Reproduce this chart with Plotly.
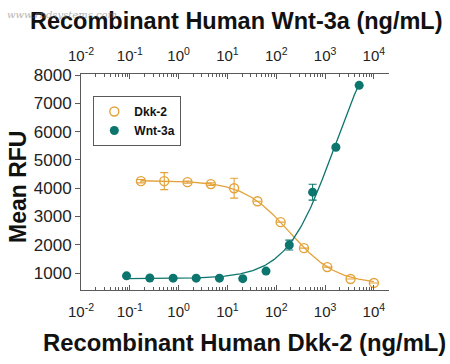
import numpy as np
import plotly.graph_objects as go

# ---- data ----
dkk_conc = [0.169, 0.508, 1.52, 4.57, 13.7, 41.2, 123, 370, 1111, 3333, 10000]
dkk_rfu = [4250, 4250, 4215, 4145, 4000, 3540, 2800, 1880, 1210, 790, 650]
dkk_err = [60, 300, 40, 50, 350, 0, 0, 0, 0, 0, 0]

wnt_conc = [0.0857, 0.257, 0.772, 2.29, 6.86, 20.6, 61.7, 185, 556, 1667, 5000]
wnt_rfu = [900, 825, 820, 820, 820, 800, 1070, 1990, 3860, 5450, 7640]
wnt_err = [0, 0, 0, 0, 0, 0, 0, 175, 280, 50, 0]

# 4PL fit parameters (bottom, top, mid-point, hill)
dkk_fit = dict(bottom=600, top=4270, mid=190, hill=-0.91)
wnt_fit = dict(bottom=800, top=10000, mid=1500, hill=0.9)

x_ticks = [1e-2, 1e-1, 1e0, 1e1, 1e2, 1e3, 1e4]
x_ticktext = ["10<sup>-2</sup>", "10<sup>-1</sup>", "10<sup>0</sup>", "10<sup>1</sup>",
              "10<sup>2</sup>", "10<sup>3</sup>", "10<sup>4</sup>"]
y_ticks = [1000, 2000, 3000, 4000, 5000, 6000, 7000, 8000]

ORANGE = "#E3A23A"
TEAL = "#0C756D"
AXIS = "#5a5a5a"


def four_pl(x, p):
    x = np.asarray(x, dtype=float)
    return p["bottom"] + (p["top"] - p["bottom"]) / (1 + (p["mid"] / x) ** p["hill"])


dkk_x = np.logspace(np.log10(dkk_conc[0]), np.log10(dkk_conc[-1]), 200)
wnt_x = np.logspace(np.log10(wnt_conc[0]), np.log10(wnt_conc[-1]), 200)

minor_vals = [m * 10.0 ** d for d in range(-2, 5) for m in range(2, 10)]

fig = go.Figure()
fig.add_trace(go.Scatter(x=dkk_x, y=four_pl(dkk_x, dkk_fit), mode="lines",
                         line=dict(color=ORANGE, width=1.3), showlegend=False, hoverinfo="skip"))
fig.add_trace(go.Scatter(x=dkk_conc, y=dkk_rfu, mode="markers", name="Dkk-2",
                         marker=dict(symbol="circle-open", size=9, color=ORANGE, line=dict(width=1.4)),
                         error_y=dict(type="data", array=dkk_err, visible=True, color=ORANGE,
                                      thickness=1.1, width=4)))
fig.add_trace(go.Scatter(x=wnt_x, y=four_pl(wnt_x, wnt_fit), mode="lines",
                         line=dict(color=TEAL, width=1.3), showlegend=False, hoverinfo="skip"))
fig.add_trace(go.Scatter(x=wnt_conc, y=wnt_rfu, mode="markers", name="Wnt-3a",
                         marker=dict(symbol="circle", size=9, color=TEAL),
                         error_y=dict(type="data", array=wnt_err, visible=True, color=TEAL,
                                      thickness=1.1, width=4)))
# invisible trace to anchor the top axis
fig.add_trace(go.Scatter(x=[1e-2, 1e4], y=[1000, 1000], xaxis="x2", mode="markers",
                         marker=dict(opacity=0), showlegend=False, hoverinfo="skip"))

tick_font = dict(family="Liberation Sans Narrow, Arial Narrow, Liberation Sans, Arial", size=15, color="#222")
xr = [-2, 4.31]
common_x = dict(type="log", range=xr, tickmode="array", tickvals=x_ticks, ticktext=x_ticktext,
                ticks="inside", ticklen=5, tickwidth=1, tickcolor=AXIS, showline=True,
                linecolor=AXIS, linewidth=1, showgrid=False, zeroline=False, tickfont=tick_font,
                minor=dict(ticks="inside", ticklen=3, tickwidth=1, tickcolor=AXIS,
                           tickmode="array", tickvals=minor_vals, showgrid=False))

fig.update_layout(
    width=450, height=364,
    margin=dict(l=81, r=61, t=74, b=74),
    paper_bgcolor="white", plot_bgcolor="white",
    xaxis=dict(**common_x, side="bottom", ticklabelstandoff=8),
    xaxis2=dict(**common_x, side="top", overlaying="x", anchor="y", ticklabelstandoff=6),
    yaxis=dict(range=[400, 8040], tickmode="array", tickvals=y_ticks, ticks="outside",
               ticklen=5, tickcolor=AXIS, showline=True, linecolor=AXIS, linewidth=1,
               showgrid=False, zeroline=False,
               tickfont=dict(family="Liberation Sans Narrow, Arial Narrow, Liberation Sans, Arial",
                             size=17, color="#222")),
    legend=dict(x=0.04, y=0.898, xanchor="left", yanchor="top", bgcolor="white",
                bordercolor=AXIS, borderwidth=1,
                font=dict(family="Liberation Sans, Arial", size=12, color="#111", weight="bold"),
                itemwidth=30, tracegroupgap=0),
    showlegend=True,
)

fig.add_annotation(text="Recombinant Human Wnt-3a (ng/mL)", xref="paper", yref="paper",
                   x=(236 - 81) / 308, y=(290 - 21) / 216, xanchor="center", yanchor="middle",
                   showarrow=False,
                   font=dict(family="Liberation Sans, Arial", size=23.5, color="#111", weight="bold"))
fig.add_annotation(text="Recombinant Human Dkk-2 (ng/mL)", xref="paper", yref="paper",
                   x=(244 - 81) / 308, y=(290 - 342) / 216, xanchor="center", yanchor="middle",
                   showarrow=False,
                   font=dict(family="Liberation Sans, Arial", size=23.8, color="#111", weight="bold"))
fig.add_annotation(text="Mean RFU", xref="paper", yref="paper",
                   x=(18 - 81) / 308, y=(290 - 187) / 216, xanchor="center", yanchor="middle",
                   textangle=-90, showarrow=False,
                   font=dict(family="Liberation Sans, Arial", size=23, color="#111", weight="bold"))
fig.add_annotation(text="www.rndsystems.com", xref="paper", yref="paper",
                   x=(5 - 81) / 308, y=(290 - 14) / 216, xanchor="left", yanchor="middle",
                   showarrow=False, opacity=0.55,
                   font=dict(family="DejaVu Serif, serif", size=10, color="#777", style="italic"))

fig.write_html("out.html", config={"displayModeBar": False},
               post_script="document.body.style.margin='0px';")
